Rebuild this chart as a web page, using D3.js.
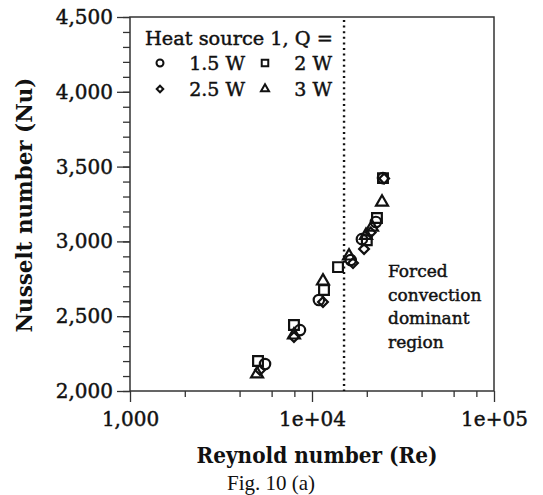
<!DOCTYPE html>
<meta charset="utf-8">
<script src="https://cdn.jsdelivr.net/npm/d3@7"></script>
<style>
  body { margin: 0; background: #fff; }
  text { font-family: "DejaVu Serif", serif; fill: #111; }
</style>
<body>
<div id="chart"></div>
<script>
  // values (Re, Nu) for each heat load
  var seriesNames = ["1.5 W", "2 W", "2.5 W", "3 W"];
  var seriesSymbols = ["circle", "square", "diamond", "triangle"];
  var re15 = [5520, 8590, 10910, 16330, 18800, 22450, 24550];
  var nu15 = [2180, 2407, 2608, 2875, 3015, 3130, 3423];
  var re2  = [5050, 7960, 11640, 13900, 20000, 22750, 24550];
  var nu2  = [2200, 2441, 2675, 2828, 3008, 3156, 3423];
  var re25 = [5180, 7960, 11490, 16800, 19320, 21000, 24900];
  var nu25 = [2140, 2361, 2595, 2855, 2949, 3060, 3420];
  var re3  = [4990, 7960, 11490, 15970, 19800, 21360, 24250];
  var nu3  = [2114, 2374, 2735, 2902, 3040, 3095, 3262];
  var xTicks = [1000, 10000, 100000];
  var xTickLabels = ["1,000", "1e+04", "1e+05"];
  var yTicks = [2000, 2500, 3000, 3500, 4000, 4500];
  var reLimit = 15000;

  var W = 543, H = 495;
  var svg = d3.select("#chart").append("svg")
      .attr("width", W).attr("height", H);

  var x = d3.scaleLog().domain([1000, 100000]).range([130, 494]);
  var y = d3.scaleLinear().domain([2000, 4500]).range([391, 17]);

  var axisCol = "#333";

  // minor ticks
  var xMinor = [];
  [1000, 10000].forEach(function(d) {
    [2, 4, 6, 8].forEach(function(m) { xMinor.push(d * m); });
  });
  var yMinor = d3.range(2000, 4501, 100);

  function heavy(sel) {
    // the source font is a touch heavier than DejaVu Book
    sel.attr("stroke", "#111").attr("stroke-width", 0.45);
  }

  svg.append("g").attr("transform", "translate(0,391)")
    .call(d3.axisBottom(x).tickValues(xMinor).tickSize(6).tickFormat(""))
    .call(function(g) { g.select(".domain").remove(); g.selectAll("line").attr("stroke", axisCol).attr("stroke-width", 1.3); });

  svg.append("g").attr("transform", "translate(0,391)")
    .call(d3.axisBottom(x).tickValues(xTicks).tickSize(11).tickPadding(10)
      .tickFormat(function(d, i) { return xTickLabels[i]; }))
    .call(function(g) {
      g.select(".domain").remove();
      g.selectAll("line").attr("stroke", axisCol).attr("stroke-width", 1.3);
      g.selectAll("text").attr("font-size", 20).attr("fill", "#111")
        .style("font-family", "DejaVu Serif").call(heavy);
    });

  svg.append("g").attr("transform", "translate(130,0)")
    .call(d3.axisLeft(y).tickValues(yMinor).tickSize(7).tickFormat(""))
    .call(function(g) { g.select(".domain").remove(); g.selectAll("line").attr("stroke", axisCol).attr("stroke-width", 1.3); });

  svg.append("g").attr("transform", "translate(130,0)")
    .call(d3.axisLeft(y).tickValues(yTicks).tickSize(13).tickPadding(4)
      .tickFormat(d3.format(",")))
    .call(function(g) {
      g.select(".domain").remove();
      g.selectAll("line").attr("stroke", axisCol).attr("stroke-width", 1.3);
      g.selectAll("text").attr("font-size", 20).attr("fill", "#111")
        .style("font-family", "DejaVu Serif").call(heavy);
    });

  // frame
  svg.append("rect")
    .attr("x", x.range()[0]).attr("y", y.range()[1])
    .attr("width", x.range()[1] - x.range()[0])
    .attr("height", y.range()[0] - y.range()[1])
    .attr("fill", "none").attr("stroke", axisCol).attr("stroke-width", 1.5);

  // forced convection boundary
  svg.append("line")
    .attr("x1", x(reLimit)).attr("x2", x(reLimit))
    .attr("y1", y(4500) + 3).attr("y2", y(2000))
    .attr("stroke", "#111").attr("stroke-width", 2.4)
    .attr("stroke-dasharray", "2,3.6");

  var symbolType = {
    circle: d3.symbolCircle, square: d3.symbolSquare,
    diamond: d3.symbolSquare, triangle: d3.symbolTriangle
  };
  var symbolSize = { circle: 85, square: 95, diamond: 48, triangle: 62 };
  var symbolRot = { circle: 0, square: 0, diamond: 45, triangle: 0 };

  var series = [[re15, nu15], [re2, nu2], [re25, nu25], [re3, nu3]];
  series.forEach(function(s, k) {
    var pts = s[0].map(function(r, i) { return { re: r, nu: s[1][i] }; });
    var sym = seriesSymbols[k];
    svg.append("g").selectAll("path").data(pts).enter().append("path")
      .attr("transform", function(d) {
        return "translate(" + x(d.re) + "," + y(d.nu) + ") rotate(" + symbolRot[sym] + ")";
      })
      .attr("d", d3.symbol().type(symbolType[sym]).size(symbolSize[sym]))
      .attr("fill", "none").attr("stroke", "#111").attr("stroke-width", 2.2);
  });

  // legend
  var leg = svg.append("g");
  leg.append("text").attr("x", 145).attr("y", 45)
    .attr("font-size", 19).attr("textLength", 188).attr("lengthAdjust", "spacingAndGlyphs")
    .call(heavy).text("Heat source 1, Q =");
  var legPos = [[160, 63], [265, 63], [160, 89], [265, 89]];
  seriesNames.forEach(function(n, k) {
    var p = legPos[k];
    var sym = seriesSymbols[k];
    leg.append("path")
      .attr("transform", "translate(" + p[0] + "," + p[1] + ") rotate(" + symbolRot[sym] + ")")
      .attr("d", d3.symbol().type(symbolType[sym]).size(symbolSize[sym] * 0.45))
      .attr("fill", "none").attr("stroke", "#111").attr("stroke-width", 2);
    var left = k % 2 === 0;
    leg.append("text")
      .attr("x", left ? 245 : 332).attr("y", p[1] + 7)
      .attr("text-anchor", "end")
      .attr("font-size", 19).call(heavy).text(n);
  });

  // annotation
  var note = ["Forced", "convection", "dominant", "region"];
  svg.append("g").selectAll("text").data(note).enter().append("text")
    .attr("x", 388).attr("y", function(d, i) { return 277 + i * 23.5; })
    .attr("font-size", 17).call(heavy).text(function(d) { return d; });

  // axis titles
  svg.append("text")
    .attr("x", 317).attr("y", 463).attr("text-anchor", "middle")
    .attr("font-size", 22).attr("font-weight", "bold")
    .attr("textLength", 241).attr("lengthAdjust", "spacingAndGlyphs")
    .text("Reynold number (Re)");
  svg.append("text")
    .attr("transform", "translate(32,205) rotate(-90)").attr("text-anchor", "middle")
    .attr("font-size", 22).attr("font-weight", "bold")
    .attr("textLength", 255).attr("lengthAdjust", "spacingAndGlyphs")
    .text("Nusselt number (Nu)");

  svg.append("text")
    .attr("x", 271).attr("y", 490).attr("text-anchor", "middle")
    .style("font-family", "Liberation Serif")
    .attr("font-size", 21).text("Fig. 10 (a)");
</script>
</body>
